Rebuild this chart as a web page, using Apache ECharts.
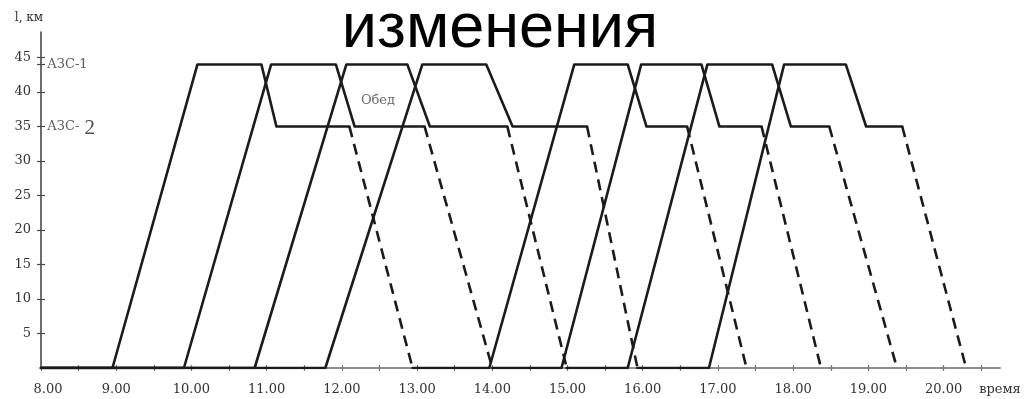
<!DOCTYPE html>
<html>
<head>
<meta charset="utf-8">
<title>изменения</title>
<script src="https://cdn.jsdelivr.net/npm/echarts@6.0.0/dist/echarts.min.js"></script>
<style>
  html, body { margin: 0; padding: 0; background: #ffffff; }
  #chart { width: 1036px; height: 399px; }
</style>
</head>
<body>
<div id="chart"></div>
<script>
// Timetable of fuel-tanker runs: distance from the depot (km) against time of day (h).
const dayStart = 8;          // all tankers stand at the depot from 8.00
const station1Km = 44;       // АЗС-1
const station2Km = 35;       // АЗС-2

// One entry per run; runs k and k+4 are made by the same tanker.
const departDepot    = [8.95, 9.90, 10.84, 11.78, 13.96, 14.92, 15.80, 16.88];
const arriveStation1 = [10.08, 11.06, 12.06, 13.07, 15.09, 15.98, 16.86, 17.88];
const leaveStation1  = [10.93, 11.92, 12.87, 13.92, 15.80, 16.78, 17.72, 18.70];
const arriveStation2 = [11.13, 12.17, 13.17, 14.27, 16.05, 17.02, 17.97, 18.97];
const leaveStation2  = [12.10, 13.10, 14.20, 15.26, 16.59, 17.58, 18.48, 19.45];
const returnDepot    = [12.94, 14.00, 14.99, 15.93, 17.38, 18.37, 19.38, 20.30];
const tankerRuns = [[0, 4], [1, 5], [2, 6], [3, 7]];

// Axis ticks and labels
const xTickValues = [8, 8.5, 9, 9.5, 10, 10.5, 11, 11.5, 12, 12.5, 13, 13.5, 14, 14.5,
                     15, 15.5, 16, 16.5, 17, 17.5, 18, 18.5, 19, 19.5, 20, 20.5];
const xLabelValues = [8, 9, 10, 11, 12, 13, 14, 15, 16, 17, 18, 19, 20];
const yTickValues = [5, 10, 15, 20, 25, 30, 35, 40, 44, 45];
const yLabelValues = [5, 10, 15, 20, 25, 30, 35, 40, 45];

// Text annotations placed in data coordinates
const stationNotes = [
  { name: 'АЗС-1', value: [dayStart, station1Km] },
  { name: 'АЗС-2', value: [dayStart, station2Km] }
];
const lunchNote = { name: 'Обед', value: [12.48, 38.8] };

const INK = '#1b1b1b';
const serif = '"DejaVu Serif", "Liberation Serif", serif';

function solidSeries(points) {
  return {
    type: 'line', data: points, symbol: 'none', silent: true, z: 3,
    lineStyle: { color: INK, width: 2.6, type: 'solid', cap: 'round', join: 'round' }
  };
}
function dashedSeries(points) {
  return {
    type: 'line', data: points, symbol: 'none', silent: true, z: 3,
    lineStyle: { color: INK, width: 2.6, type: [11, 7] }
  };
}

const series = [];
tankerRuns.forEach(function (runs) {
  let groundFrom = dayStart;
  runs.forEach(function (r) {
    // waiting at the depot, driving out, filling both stations
    series.push(solidSeries([
      [groundFrom, 0],
      [departDepot[r], 0],
      [arriveStation1[r], station1Km],
      [leaveStation1[r], station1Km],
      [arriveStation2[r], station2Km],
      [leaveStation2[r], station2Km]
    ]));
    // empty return to the depot
    series.push(dashedSeries([
      [leaveStation2[r], station2Km],
      [returnDepot[r], 0]
    ]));
    groundFrom = returnDepot[r];
  });
});

// Station names beside the distance axis
series.push({
  type: 'scatter', data: stationNotes, symbolSize: 0, silent: true, z: 4,
  label: {
    show: true, position: 'right', distance: 6,
    fontFamily: serif, fontSize: 13, color: '#333',
    formatter: function (p) {
      return p.name === 'АЗС-2' ? '{a|АЗС- }{b|2}' : '{a|' + p.name + '}';
    },
    rich: {
      a: { fontFamily: serif, fontSize: 13, color: '#333', padding: [0, 1, 0, 0] },
      b: { fontFamily: '"Liberation Serif", serif', fontSize: 21, color: '#222', padding: [4, 0, 0, 0] }
    }
  }
});
series.push({
  type: 'scatter', data: [lunchNote], symbolSize: 0, silent: true, z: 4,
  label: {
    show: true, position: 'inside', formatter: '{b}',
    fontFamily: serif, fontSize: 13, color: '#444'
  }
});

const chart = echarts.init(document.getElementById('chart'), null, { renderer: 'canvas' });

const option = {
  animation: false,
  backgroundColor: '#ffffff',
  grid: { left: 41, right: 36, top: 32, bottom: 31, containLabel: false },
  graphic: [{
    type: 'text', x: 500, y: 30, z: 10,
    style: {
      text: 'изменения', fill: '#000',
      font: '63px "Liberation Sans", Arial, sans-serif',
      textAlign: 'center', textVerticalAlign: 'middle'
    }
  }],
  xAxis: [{
    type: 'value', min: 8, max: 20.75, interval: 0.5,
    name: 'время', nameLocation: 'end', nameGap: 0,
    nameTextStyle: { fontFamily: serif, fontSize: 13, color: '#333',
                     align: 'center', verticalAlign: 'top', padding: [15, 0, 0, 0] },
    splitLine: { show: false },
    axisLine: { show: true, onZero: false, lineStyle: { color: '#8e8e8e', width: 2 } },
    axisTick: { show: true, inside: false, length: 3, customValues: xTickValues,
                lineStyle: { color: '#777', width: 1.2 } },
    axisLabel: { show: true, margin: 15, fontFamily: serif, fontSize: 13, color: '#333',
                 customValues: xLabelValues,
                 formatter: function (v) {
                   return v === 8 ? '{first|' + v.toFixed(2) + '}' : v.toFixed(2);
                 },
                 rich: { first: { fontFamily: serif, fontSize: 13, color: '#333', padding: [0, 0, 0, 14] } } }
  }, {
    type: 'value', min: 8, max: 20.75, interval: 0.5, position: 'bottom',
    splitLine: { show: false },
    axisLine: { show: false },
    axisLabel: { show: false },
    axisTick: { show: true, inside: true, length: 3, customValues: xTickValues,
                lineStyle: { color: '#777', width: 1.2 } }
  }],
  yAxis: [{
    type: 'value', min: 0, max: 48.7, interval: 5,
    name: 'l, км', nameLocation: 'end', nameGap: 8,
    nameTextStyle: { fontFamily: serif, fontSize: 12, color: '#333',
                     align: 'center', padding: [0, 24, 0, 0] },
    splitLine: { show: false },
    axisLine: { show: true, lineStyle: { color: '#4a4a4a', width: 1.6 } },
    axisTick: { show: true, inside: false, length: 4, customValues: yTickValues,
                lineStyle: { color: '#4a4a4a', width: 1.2 } },
    axisLabel: { show: true, margin: 10, fontFamily: serif, fontSize: 13, color: '#333',
                 customValues: yLabelValues }
  }, {
    type: 'value', min: 0, max: 48.7, interval: 5, position: 'left',
    splitLine: { show: false },
    axisLine: { show: false },
    axisLabel: { show: false },
    axisTick: { show: true, inside: true, length: 4, customValues: yTickValues,
                lineStyle: { color: '#4a4a4a', width: 1.2 } }
  }],
  series: series
};

chart.setOption(option);
</script>
</body>
</html>
